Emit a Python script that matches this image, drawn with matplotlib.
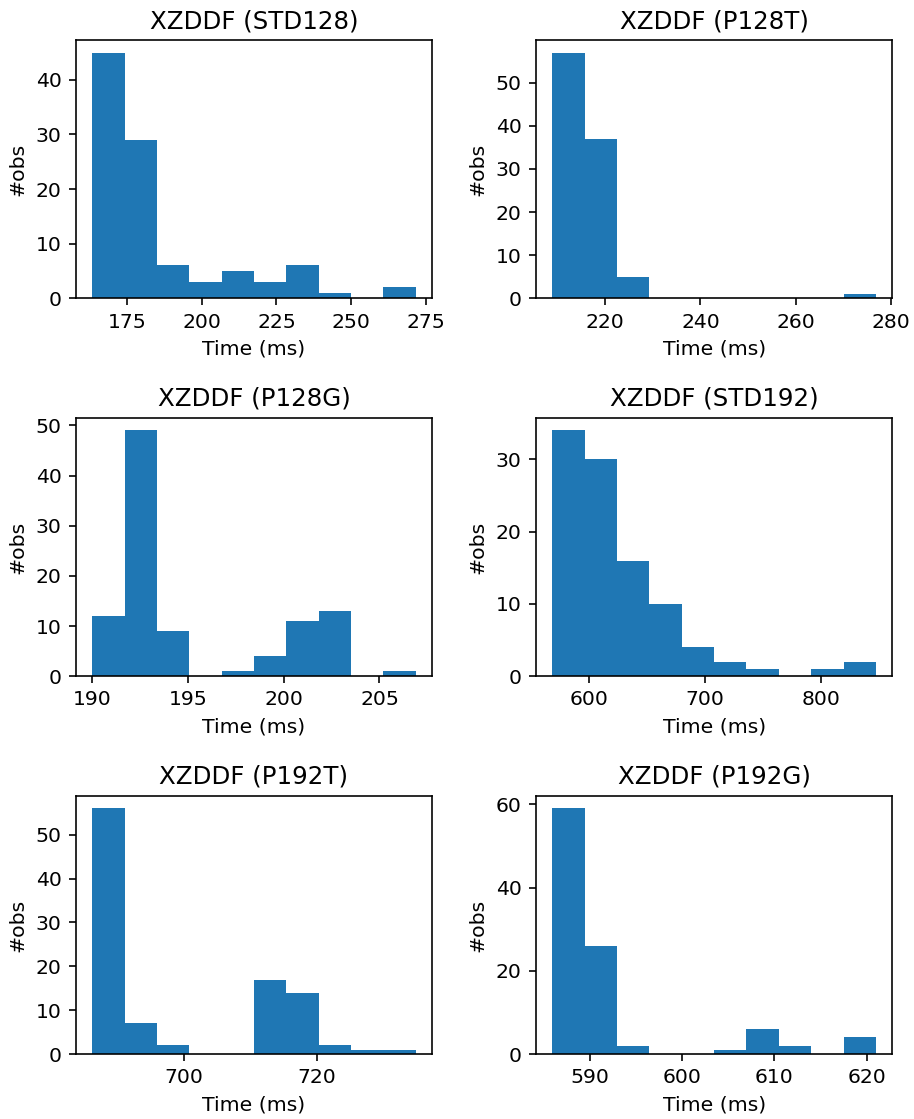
import numpy as np
import matplotlib
matplotlib.use('Agg')
import matplotlib.pyplot as plt

# Etichette dei sei scenari
titoli = ['XZDDF (STD128)', 'XZDDF (P128T)', 'XZDDF (P128G)',
          'XZDDF (STD192)', 'XZDDF (P192T)', 'XZDDF (P192G)']

# Estremi dei tempi (ms) per ciascun istogramma, 10 classi uguali
tempo_min = [163.4, 208.9, 190.0, 568.5, 686.1, 585.9]
tempo_max = [271.6, 276.8, 206.9, 847.6, 735.0, 621.0]

# Conteggi per classe
conteggi_std128 = [45, 29, 6, 3, 5, 3, 6, 1, 0, 2]
conteggi_p128t = [57, 37, 5, 0, 0, 0, 0, 0, 0, 1]
conteggi_p128g = [12, 49, 9, 0, 1, 4, 11, 13, 0, 1]
conteggi_std192 = [34, 30, 16, 10, 4, 2, 1, 0, 1, 2]
conteggi_p192t = [56, 7, 2, 0, 0, 17, 14, 2, 1, 1]
conteggi_p192g = [59, 26, 2, 0, 0, 1, 6, 2, 0, 4]

conteggi = [conteggi_std128, conteggi_p128t, conteggi_p128g,
            conteggi_std192, conteggi_p192t, conteggi_p192g]

DPI = 147
fig, axes = plt.subplots(3, 2, figsize=(915 / DPI, 1119 / DPI), dpi=DPI)
fig.subplots_adjust(left=0.083, right=0.975, top=0.964, bottom=0.058,
                    wspace=0.292, hspace=0.465)

for ax, titolo, lo, hi, c in zip(axes.flat, titoli, tempo_min, tempo_max, conteggi):
    bordi = np.linspace(lo, hi, len(c) + 1)
    centri = (bordi[:-1] + bordi[1:]) / 2
    ax.hist(centri, bins=bordi, weights=c, color='#1f77b4')
    ax.set_title(titolo)
    ax.set_xlabel('Time (ms)')
    ax.set_ylabel('#obs')

plt.savefig('out.png', dpi=DPI)
